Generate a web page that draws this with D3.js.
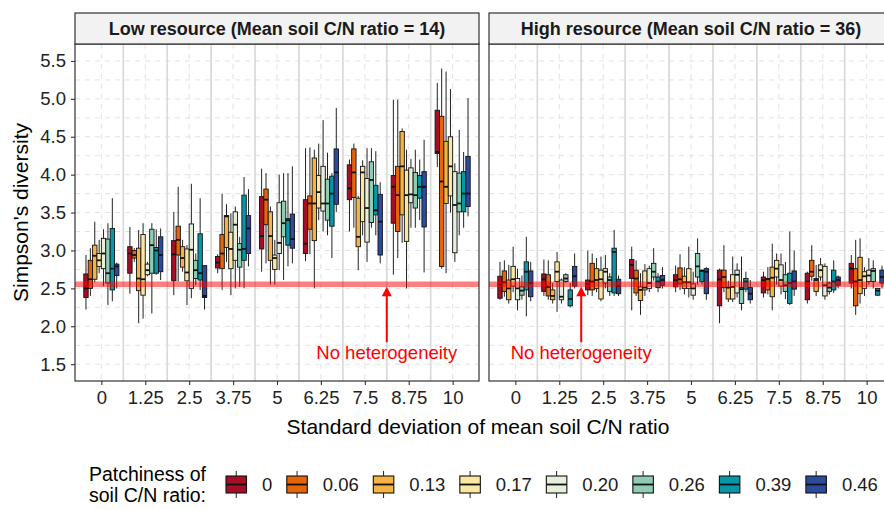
<!DOCTYPE html>
<html>
<head>
<meta charset="utf-8">
<script src="https://cdn.jsdelivr.net/npm/d3@7"></script>
<style>
  body { margin: 0; background: #fff; }
  svg { display: block; }
  text { font-family: "Liberation Sans", Arial, sans-serif; }
</style>
</head>
<body>
<svg id="chart" width="884" height="510"></svg>
<script>
// ---- categories, series and ticks ----
const sdLevels = ["0", "1.25", "2.5", "3.75", "5", "6.25", "7.5", "8.75", "10"];
const patchiness = ["0", "0.06", "0.13", "0.17", "0.20", "0.26", "0.39", "0.46"];
const patchColors = ["#a50f26", "#e6640a", "#f5b342", "#fbe7a1", "#e5efdc", "#8ecdb4", "#0797a8", "#2c4b9f"];
const yTicks = [1.5, 2.0, 2.5, 3.0, 3.5, 4.0, 4.5, 5.0, 5.5];
const noHeterogeneity = 2.555;
const panelTitles = ["Low resource (Mean soil C/N ratio = 14)", "High resource (Mean soil C/N ratio = 36)"];

// ---- Low resource: box statistics, [sd level][patchiness] ----
const lowMin = [
  [2.22, 2.40, 2.58, 2.70, 2.53, 2.28, 2.33, 2.50],
  [2.43, 2.85, 2.04, 2.10, 2.66, 2.17, 2.68, 2.61],
  [2.41, 2.59, 2.72, 2.28, 2.37, 2.54, 2.48, 2.22],
  [2.70, 2.48, 2.85, 2.41, 2.50, 2.52, 2.50, 2.79],
  [2.72, 2.83, 2.55, 2.55, 2.74, 2.61, 2.79, 2.83],
  [2.86, 2.95, 2.50, 3.40, 3.25, 3.20, 2.90, 3.51],
  [3.25, 3.30, 2.74, 3.20, 2.85, 3.30, 3.20, 2.83],
  [2.68, 2.90, 3.10, 2.50, 3.30, 3.30, 3.40, 2.71],
  [4.10, 2.76, 2.70, 3.50, 2.85, 3.20, 3.30, 3.45]
];
const lowQ1 = [
  [2.38, 2.50, 2.62, 2.79, 2.76, 2.57, 2.48, 2.67],
  [2.70, 2.90, 2.47, 2.41, 2.68, 2.70, 2.70, 2.72],
  [2.60, 2.94, 2.78, 2.60, 2.50, 2.63, 2.61, 2.38],
  [2.77, 2.76, 3.04, 2.76, 2.87, 2.78, 2.87, 2.96],
  [3.02, 3.34, 2.87, 2.75, 2.96, 3.18, 3.07, 3.03],
  [2.96, 3.28, 3.13, 3.56, 3.52, 3.40, 3.32, 3.61],
  [3.67, 3.70, 3.05, 3.38, 3.11, 3.37, 3.47, 2.94],
  [3.36, 3.25, 3.47, 3.12, 3.63, 3.56, 3.69, 3.31],
  [4.28, 2.79, 3.62, 3.72, 2.97, 3.51, 3.51, 3.58]
];
const lowMedian = [
  [2.50, 2.62, 2.93, 2.87, 2.96, 2.70, 2.76, 2.79],
  [2.96, 2.94, 2.63, 2.62, 2.74, 3.07, 3.00, 2.94],
  [2.95, 3.14, 2.90, 2.71, 3.01, 2.74, 2.70, 2.40],
  [2.84, 2.96, 3.45, 3.02, 3.34, 3.01, 3.02, 3.29],
  [3.19, 3.67, 3.19, 2.90, 3.10, 3.36, 3.40, 3.15],
  [3.09, 3.62, 3.62, 3.77, 3.62, 3.62, 3.75, 4.03],
  [3.82, 4.03, 3.18, 4.03, 3.56, 3.93, 3.53, 3.38],
  [3.84, 3.73, 4.11, 3.73, 3.74, 3.73, 3.84, 3.84],
  [4.30, 3.91, 3.84, 4.11, 3.60, 3.62, 3.75, 3.75]
];
const lowQ3 = [
  [2.69, 2.87, 3.07, 2.96, 3.16, 3.15, 3.29, 2.82],
  [3.05, 3.00, 3.03, 3.21, 2.82, 3.28, 3.04, 3.18],
  [3.13, 3.32, 3.05, 3.02, 3.35, 2.87, 3.22, 2.80],
  [2.92, 3.21, 3.46, 3.24, 3.51, 3.09, 3.73, 3.46],
  [3.71, 3.81, 3.51, 2.94, 3.63, 3.65, 3.42, 3.48],
  [3.67, 3.72, 4.22, 3.99, 4.11, 3.94, 3.98, 4.34],
  [4.13, 4.34, 3.69, 4.11, 3.95, 4.17, 3.86, 3.74],
  [3.99, 4.11, 4.57, 4.06, 4.09, 4.03, 3.99, 4.04],
  [4.85, 4.77, 4.44, 4.50, 4.04, 4.02, 4.04, 4.24]
];
const lowMax = [
  [2.94, 3.03, 3.38, 3.14, 3.28, 3.36, 3.69, 2.84],
  [3.31, 3.03, 3.27, 3.36, 2.85, 3.36, 3.28, 3.29],
  [3.51, 3.84, 3.14, 3.07, 3.88, 2.96, 3.69, 2.80],
  [2.95, 3.75, 3.61, 3.49, 3.58, 3.18, 3.97, 3.81],
  [4.08, 4.02, 3.58, 3.14, 4.00, 4.02, 4.02, 4.11],
  [4.35, 4.36, 4.33, 4.41, 4.72, 4.29, 4.02, 4.88],
  [4.20, 4.41, 3.72, 4.19, 4.35, 4.35, 4.31, 3.90],
  [4.99, 4.99, 4.61, 4.33, 4.21, 4.33, 4.20, 4.46],
  [5.21, 5.40, 5.36, 5.13, 4.15, 4.59, 4.30, 5.01]
];

// ---- High resource: box statistics, [sd level][patchiness] ----
const highMin = [
  [2.35, 2.39, 2.30, 2.45, 2.21, 2.35, 2.13, 2.33],
  [2.40, 2.35, 2.30, 2.19, 2.30, 2.57, 2.25, 2.50],
  [2.41, 2.40, 2.45, 2.33, 2.50, 2.40, 2.40, 2.40],
  [2.21, 2.40, 2.15, 2.40, 2.45, 2.60, 2.45, 2.50],
  [2.45, 2.48, 2.42, 2.38, 2.35, 2.55, 2.55, 2.35],
  [2.04, 2.45, 2.32, 2.32, 2.38, 2.21, 2.45, 2.30],
  [2.38, 2.42, 2.21, 2.55, 2.42, 2.36, 2.28, 2.40],
  [2.30, 2.60, 2.40, 2.60, 2.35, 2.42, 2.44, 2.50],
  [2.50, 2.15, 2.30, 2.40, 2.55, 2.50, 2.40, 2.50]
];
const highQ1 = [
  [2.37, 2.46, 2.35, 2.53, 2.35, 2.41, 2.48, 2.39],
  [2.46, 2.40, 2.35, 2.59, 2.35, 2.59, 2.27, 2.53],
  [2.48, 2.48, 2.50, 2.36, 2.57, 2.46, 2.44, 2.43],
  [2.63, 2.44, 2.34, 2.48, 2.50, 2.65, 2.51, 2.54],
  [2.52, 2.56, 2.50, 2.50, 2.41, 2.65, 2.59, 2.43],
  [2.27, 2.51, 2.36, 2.36, 2.44, 2.30, 2.49, 2.35],
  [2.44, 2.48, 2.39, 2.65, 2.53, 2.46, 2.30, 2.49],
  [2.35, 2.66, 2.46, 2.65, 2.40, 2.46, 2.48, 2.54],
  [2.57, 2.27, 2.43, 2.50, 2.59, 2.59, 2.41, 2.57]
];
const highMedian = [
  [2.55, 2.58, 2.50, 2.62, 2.50, 2.47, 2.72, 2.57],
  [2.62, 2.52, 2.40, 2.72, 2.39, 2.63, 2.36, 2.66],
  [2.56, 2.59, 2.61, 2.62, 2.72, 2.61, 2.98, 2.53],
  [2.81, 2.63, 2.48, 2.51, 2.57, 2.72, 2.59, 2.61],
  [2.61, 2.62, 2.58, 2.58, 2.50, 2.79, 2.73, 2.72],
  [2.62, 2.65, 2.51, 2.52, 2.68, 2.49, 2.59, 2.43],
  [2.61, 2.62, 2.64, 2.76, 2.61, 2.54, 2.57, 2.59],
  [2.59, 2.72, 2.61, 2.74, 2.54, 2.51, 2.59, 2.61],
  [2.76, 2.59, 2.61, 2.66, 2.67, 2.73, 2.47, 2.65]
];
const highQ3 = [
  [2.66, 2.73, 2.61, 2.79, 2.63, 2.52, 2.85, 2.73],
  [2.69, 2.68, 2.48, 2.85, 2.61, 2.68, 2.48, 2.79],
  [2.61, 2.83, 2.76, 2.74, 2.76, 2.65, 3.03, 2.62],
  [2.88, 2.74, 2.52, 2.73, 2.76, 2.83, 2.65, 2.67],
  [2.68, 2.77, 2.66, 2.76, 2.56, 2.96, 2.74, 2.76],
  [2.74, 2.74, 2.51, 2.68, 2.74, 2.51, 2.63, 2.51],
  [2.65, 2.63, 2.78, 2.87, 2.81, 2.68, 2.70, 2.73],
  [2.70, 2.87, 2.63, 2.81, 2.79, 2.57, 2.74, 2.65],
  [2.83, 2.76, 2.91, 2.72, 2.74, 2.76, 2.50, 2.74]
];
const highMax = [
  [2.85, 2.87, 2.81, 3.05, 2.76, 2.67, 3.18, 2.85],
  [2.88, 2.87, 2.57, 2.98, 2.63, 2.70, 2.57, 2.96],
  [3.00, 2.96, 2.90, 2.92, 2.94, 2.70, 3.27, 2.67],
  [3.05, 2.87, 2.70, 2.82, 2.80, 3.03, 2.70, 2.78],
  [2.80, 2.95, 2.78, 3.05, 2.72, 3.16, 2.75, 2.78],
  [2.76, 3.07, 2.60, 2.92, 2.83, 2.92, 2.72, 2.61],
  [2.72, 2.78, 3.09, 2.96, 2.96, 2.85, 3.25, 3.00],
  [2.72, 3.07, 2.81, 2.90, 2.83, 2.59, 2.87, 2.67],
  [2.94, 3.14, 3.16, 2.78, 2.90, 2.87, 2.50, 2.80]
];

// ---- layout ----
const svg = d3.select("#chart");
const panelTop = 44, panelBottom = 381, stripTop = 13;
const y = d3.scaleLinear().domain([1.278, 5.724]).range([panelBottom, panelTop]);
const color = d3.scaleOrdinal().domain(patchiness).range(patchColors);

const panels = [
  { x0: 75, x1: 479, title: panelTitles[0], stats: [lowMin, lowQ1, lowMedian, lowQ3, lowMax], arrowBetween: ["7.5", "8.75"], yAxis: true },
  { x0: 489, x1: 893, title: panelTitles[1], stats: [highMin, highQ1, highMedian, highQ3, highMax], arrowBetween: ["1.25", "2.5"], yAxis: false }
];

const clip = svg.append("defs");

panels.forEach((p, pi) => {
  const x = d3.scalePoint().domain(sdLevels).range([p.x0, p.x1]).padding(0.6);
  const step = x.step();
  const dodge = d3.scaleBand().domain(patchiness).range([-0.4 * step, 0.4 * step]);
  const bw = dodge.bandwidth();

  clip.append("clipPath").attr("id", "clip" + pi)
    .append("rect").attr("x", p.x0).attr("y", panelTop).attr("width", p.x1 - p.x0).attr("height", panelBottom - panelTop);

  const g = svg.append("g");
  g.append("rect").attr("x", p.x0).attr("y", panelTop).attr("width", p.x1 - p.x0).attr("height", panelBottom - panelTop).attr("fill", "#fff");

  const inner = g.append("g").attr("clip-path", `url(#clip${pi})`);

  // dashed grid
  const yGrid = d3.range(1.5, 5.51, 0.25);
  inner.selectAll(".hg").data(yGrid).join("line")
    .attr("x1", p.x0).attr("x2", p.x1).attr("y1", d => y(d)).attr("y2", d => y(d))
    .attr("stroke", "#e2e2e2").attr("stroke-width", 1).attr("stroke-dasharray", "5,5");
  inner.selectAll(".vg").data(sdLevels).join("line")
    .attr("x1", d => x(d)).attr("x2", d => x(d)).attr("y1", panelTop).attr("y2", panelBottom)
    .attr("stroke", "#e2e2e2").attr("stroke-width", 1).attr("stroke-dasharray", "5,5");

  // solid separators between sd levels
  const seps = sdLevels.slice(1).map((d, i) => (x(sdLevels[i]) + x(d)) / 2);
  inner.selectAll(".sep").data(seps).join("line")
    .attr("x1", d => d).attr("x2", d => d).attr("y1", panelTop).attr("y2", panelBottom)
    .attr("stroke", "#d9d9d9").attr("stroke-width", 1.7);

  // boxplots
  const boxes = [];
  sdLevels.forEach((sd, ci) => {
    patchiness.forEach((pt, si) => {
      boxes.push({
        sd, pt,
        min: p.stats[0][ci][si], q1: p.stats[1][ci][si], med: p.stats[2][ci][si],
        q3: p.stats[3][ci][si], max: p.stats[4][ci][si]
      });
    });
  });
  const bg = inner.selectAll(".box").data(boxes).join("g")
    .attr("transform", d => `translate(${x(d.sd) + dodge(d.pt)},0)`);
  bg.append("line").attr("x1", bw / 2).attr("x2", bw / 2)
    .attr("y1", d => y(d.max)).attr("y2", d => y(d.q3)).attr("stroke", "#222").attr("stroke-width", 1);
  bg.append("line").attr("x1", bw / 2).attr("x2", bw / 2)
    .attr("y1", d => y(d.q1)).attr("y2", d => y(d.min)).attr("stroke", "#222").attr("stroke-width", 1);
  bg.append("rect").attr("x", 0).attr("width", bw)
    .attr("y", d => y(d.q3)).attr("height", d => Math.max(0.5, y(d.q1) - y(d.q3)))
    .attr("fill", d => color(d.pt)).attr("stroke", "#111").attr("stroke-width", 0.9);
  bg.append("line").attr("x1", 0).attr("x2", bw)
    .attr("y1", d => y(d.med)).attr("y2", d => y(d.med)).attr("stroke", "#111").attr("stroke-width", 1.8);

  // reference line: no heterogeneity
  inner.append("line").attr("x1", p.x0).attr("x2", p.x1)
    .attr("y1", y(noHeterogeneity)).attr("y2", y(noHeterogeneity))
    .attr("stroke", "#ff0000").attr("stroke-opacity", 0.5).attr("stroke-width", 5.5);

  // arrow + label
  const ax = (x(p.arrowBetween[0]) + x(p.arrowBetween[1])) / 2;
  const tipY = y(2.52), tailY = y(1.79);
  g.append("line").attr("x1", ax).attr("x2", ax).attr("y1", tailY).attr("y2", tipY + 8)
    .attr("stroke", "#ff0000").attr("stroke-width", 2);
  g.append("path").attr("d", `M${ax},${tipY} L${ax - 5},${tipY + 9.5} L${ax + 5},${tipY + 9.5} Z`).attr("fill", "#ff0000");
  g.append("text").attr("x", ax).attr("y", y(1.66)).attr("dy", "0.35em")
    .attr("text-anchor", "middle").attr("fill", "#ff0000").style("font-size", "18.5px")
    .text("No heterogeneity");

  // panel border
  g.append("rect").attr("x", p.x0).attr("y", panelTop).attr("width", p.x1 - p.x0).attr("height", panelBottom - panelTop)
    .attr("fill", "none").attr("stroke", "#333").attr("stroke-width", 1.2);

  // strip
  g.append("rect").attr("x", p.x0).attr("y", stripTop).attr("width", p.x1 - p.x0).attr("height", panelTop - stripTop)
    .attr("fill", "#f2f2f2").attr("stroke", "#333").attr("stroke-width", 1.2);
  g.append("text").attr("x", (p.x0 + p.x1) / 2).attr("y", (stripTop + panelTop) / 2).attr("dy", "0.36em")
    .attr("text-anchor", "middle").attr("fill", "#1a1a1a").style("font-size", "18px").style("font-weight", "bold")
    .text(p.title);

  // x axis
  const xa = g.append("g").attr("transform", `translate(0,${panelBottom})`)
    .call(d3.axisBottom(x).tickSize(4).tickPadding(6));
  xa.select(".domain").remove();
  xa.selectAll(".tick line").attr("stroke", "#333").attr("stroke-width", 1.1);
  xa.selectAll(".tick text").attr("fill", "#222").style("font-size", "18.5px")
    .style("font-family", '"Liberation Sans", Arial, sans-serif');

  // y axis
  if (p.yAxis) {
    const ya = g.append("g").attr("transform", `translate(${p.x0},0)`)
      .call(d3.axisLeft(y).tickValues(yTicks).tickFormat(d3.format(".1f")).tickSize(4).tickPadding(5));
    ya.select(".domain").remove();
    ya.selectAll(".tick line").attr("stroke", "#333").attr("stroke-width", 1.1);
    ya.selectAll(".tick text").attr("fill", "#222").style("font-size", "18.5px")
      .style("font-family", '"Liberation Sans", Arial, sans-serif');
  }
});

// axis titles
svg.append("text").attr("x", 478).attr("y", 427).attr("dy", "0.35em").attr("text-anchor", "middle")
  .attr("fill", "#000").style("font-size", "21px").text("Standard deviation of mean soil C/N ratio");
svg.append("text").attr("transform", `translate(21,${(panelTop + panelBottom) / 2}) rotate(-90)`)
  .attr("dy", "0.35em").attr("text-anchor", "middle")
  .attr("fill", "#000").style("font-size", "21px").text("Simpson's diversity");

// legend
const lg = svg.append("g");
const keyMid = 484.5;
lg.append("text").attr("x", 206).attr("y", keyMid - 10.5).attr("dy", "0.35em").attr("text-anchor", "end")
  .attr("fill", "#000").style("font-size", "19.5px").text("Patchiness of");
lg.append("text").attr("x", 206).attr("y", keyMid + 10.5).attr("dy", "0.35em").attr("text-anchor", "end")
  .attr("fill", "#000").style("font-size", "19.5px").text("soil C/N ratio:");

let lx = 226;
const keyW = 20.5, keyH = 17;
patchiness.forEach(pt => {
  const k = lg.append("g").attr("transform", `translate(${lx},0)`);
  k.append("line").attr("x1", keyW / 2).attr("x2", keyW / 2).attr("y1", keyMid - keyH / 2 - 5).attr("y2", keyMid + keyH / 2 + 5)
    .attr("stroke", "#222").attr("stroke-width", 1);
  k.append("rect").attr("x", 0).attr("y", keyMid - keyH / 2).attr("width", keyW).attr("height", keyH)
    .attr("fill", color(pt)).attr("stroke", "#111").attr("stroke-width", 1.1);
  k.append("line").attr("x1", 0).attr("x2", keyW).attr("y1", keyMid).attr("y2", keyMid)
    .attr("stroke", "#111").attr("stroke-width", 1.8);
  const t = k.append("text").attr("x", keyW + 15.5).attr("y", keyMid).attr("dy", "0.35em")
    .attr("fill", "#1a1a1a").style("font-size", "18.5px").text(pt);
  lx += keyW + 15.5 + t.node().getComputedTextLength() + 14.5;
});
</script>
</body>
</html>
